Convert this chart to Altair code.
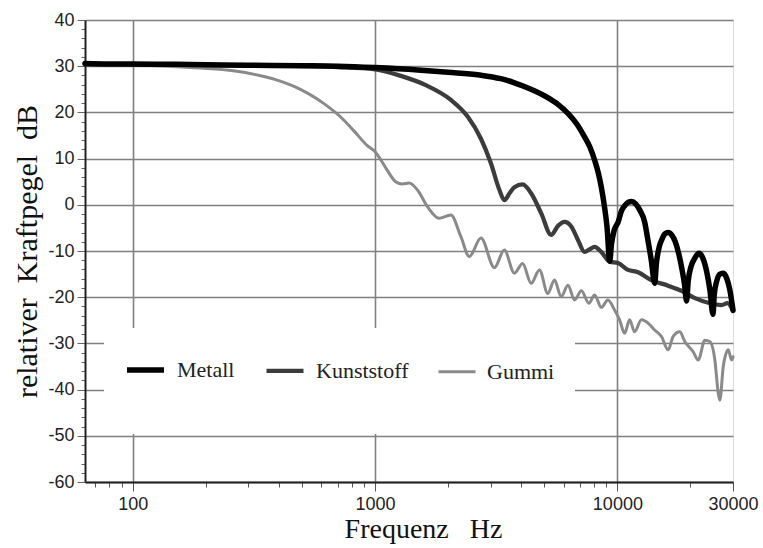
import altair as alt
import pandas as pd

# ---------------- data ----------------
series_names = ["Metall", "Kunststoff", "Gummi"]
series_colors = ["#000000", "#3c3c3c", "#8a8a8a"]
series_widths = [5.5, 3.0, 3.6]

metall_f = [63.5, 80, 100, 150, 200, 300, 500, 700, 1000, 1500, 2000, 2700, 3300, 3760,
            4400, 5160, 5700, 6250, 6800, 7320, 7700, 8050, 8350, 8600, 8850, 9050, 9300,
            9450, 9700, 10060, 10400, 10720, 11100, 11430, 11900, 12360, 12970, 13300,
            13800, 14250, 14500, 14900, 15290, 15700, 16200, 16800, 17270, 17900, 18450,
            18900, 19300, 19600, 20100, 20900, 21700, 22500, 23370, 24100, 24800, 25100,
            25700, 26500, 27400, 28300, 29100, 30000]
metall_db = [30.6, 30.5, 30.5, 30.4, 30.3, 30.2, 30.1, 30.0, 29.7, 29.2, 28.7, 28.1, 27.3, 26.4,
             25.0, 23.2, 21.7, 19.8, 17.5, 14.7, 12.5, 9.7, 6.8, 3.6, -0.5, -4.5, -12.2,
             -8.6, -5.5, -3.8, -1.3, -0.2, 0.6, 0.7, 0.2, -1.1, -3.8, -7.0,
             -12.0, -17.0, -12.5, -9.0, -7.4, -6.3, -6.0, -6.6, -7.8, -10.5, -13.8,
             -17.0, -20.8, -16.5, -13.5, -11.5, -10.5, -11.5, -14.5, -18.5, -23.7, -19.5,
             -16.5, -15.0, -14.8, -16.0, -18.4, -22.8]

kunst_f = [63.5, 100, 200, 400, 700, 1000, 1277, 1618, 2055, 2410, 2735, 3006, 3260, 3415,
           3600, 3757, 4064, 4405, 4845, 5330, 5700, 6055, 6450, 6875, 7320, 7700, 8050,
           8580, 9290, 10050, 11060, 12170, 13800, 16190, 18380, 20900, 23720, 26900,
           28500, 30000]
kunst_db = [30.5, 30.4, 30.3, 30.1, 29.8, 29.3, 27.9, 25.9, 22.7, 19.1, 14.3, 9.0, 3.2, 1.0,
            2.6, 3.8, 4.4, 2.5, -1.8, -6.5, -4.5, -3.7, -4.7, -7.6, -10.2, -9.6, -9.1,
            -10.2, -12.3, -12.6, -14.1, -14.6, -16.3, -17.5, -18.6, -20.2, -21.2, -21.7,
            -21.3, -23.0]

gummi_f = [63.5, 100, 140, 190, 260, 358, 420, 492, 577, 615, 721, 818, 929, 1000, 1060,
           1122, 1216, 1297, 1381, 1496, 1645, 1836, 2055, 2260, 2448, 2735, 3107, 3415,
           3757, 4064, 4405, 4770, 5160, 5500, 5860, 6250, 6660, 7100, 7630, 8050, 8580,
           9140, 9740, 10210, 10710, 11230, 11780, 12560, 13390, 14250, 15200, 16200,
           16990, 18090, 18970, 20550, 21560, 22960, 24070, 25250, 26080, 26480, 27350,
           28680, 29600, 30000]
gummi_db = [30.5, 30.3, 30.0, 29.6, 29.0, 27.6, 26.5, 25.0, 22.9, 21.9, 19.0, 16.0, 12.8, 11.5,
            9.6, 7.5, 5.0, 4.5, 4.7, 3.2, -0.4, -2.9, -2.2, -6.9, -11.2, -7.2, -13.6, -9.8,
            -14.8, -12.7, -17.0, -14.1, -19.2, -16.3, -19.9, -17.4, -20.6, -18.6, -21.3,
            -19.5, -22.2, -20.6, -22.8, -24.9, -27.8, -24.9, -27.5, -24.9, -25.6, -27.1,
            -28.5, -31.4, -28.5, -27.5, -29.6, -31.8, -33.6, -29.3, -29.6, -33.6, -40.8,
            -42.3, -35.0, -31.4, -33.6, -32.9]

x_tick_values = [70, 80, 90, 100, 200, 300, 400, 500, 600, 700, 800, 900,
                 1000, 2000, 3000, 4000, 5000, 6000, 7000, 8000, 9000,
                 10000, 20000, 30000]
x_label_values = [100, 1000, 10000, 30000]
x_grid_values = [100, 1000, 10000]
y_tick_values = list(range(-60, 41, 2))

# ---------------- table ----------------
rows = []
for name, fs, ds in [("Metall", metall_f, metall_db),
                     ("Kunststoff", kunst_f, kunst_db),
                     ("Gummi", gummi_f, gummi_db)]:
    assert len(fs) == len(ds), name
    for f, d in zip(fs, ds):
        rows.append({"Material": name, "Frequenz": f, "Pegel": d})
df = pd.DataFrame(rows)

lbl = ",".join(str(v) for v in x_label_values)
grd = ",".join(str(v) for v in x_grid_values)
NB = "\u00a0"

x_axis = alt.Axis(
    values=x_tick_values,
    title="Frequenz" + NB * 3 + "Hz",
    titleFont="Liberation Serif", titleFontSize=28, titleFontWeight="normal",
    titleColor="#111", titlePadding=2, titleX=338,
    labelExpr=f"indexof([{lbl}], datum.value) >= 0 ? '' + datum.value : ''",
    labelFont="Liberation Sans", labelFontSize=18, labelColor="#222",
    labelPadding=4, labelOverlap=False, labelFlush=False, labelBound=False,
    tickSize={"condition": {"test": f"indexof([{lbl}], datum.value) >= 0", "value": 9}, "value": 5},
    tickColor="#555", tickWidth=1,
    grid=True,
    gridOpacity={"condition": {"test": f"indexof([{grd}], datum.value) >= 0", "value": 1}, "value": 0},
    gridColor="#808080", gridWidth=1.6,
    domainColor="#222", domainWidth=2,
)

y_axis = alt.Axis(
    values=y_tick_values,
    title="relativer" + NB * 2 + "Kraftpegel" + NB * 2 + "dB",
    titleFont="Liberation Serif", titleFontSize=30, titleFontWeight="normal",
    titleColor="#111", titlePadding=5,
    labelExpr="datum.value % 10 === 0 ? '' + datum.value : ''",
    labelFont="Liberation Sans", labelFontSize=18, labelColor="#222",
    labelPadding=3, labelOverlap=False, labelFlush=False, labelBound=False,
    tickSize={"condition": {"test": "datum.value % 10 === 0", "value": 8}, "value": 4},
    tickColor="#666", tickWidth=1,
    grid=True,
    gridOpacity={"condition": {"test": "datum.value % 10 === 0", "value": 1}, "value": 0},
    gridColor="#808080", gridWidth=1.6,
    domainColor="#222", domainWidth=2,
)

legend = alt.Legend(
    orient="none", legendX=19, legendY=308, direction="horizontal", title=None,
    symbolType="M-1,-1.76M-1,0H1M1,1.76", symbolSize=1369, symbolFillColor="transparent",
    labelFont="Liberation Serif", labelFontSize=22, labelColor="#222",
    labelOffset=10, columnPadding=23, padding=20, fillColor="white",
)

xscale = alt.Scale(type="log", domain=[63.5, 30000], nice=False)
yscale = alt.Scale(domain=[-60, 40], nice=False)

base = alt.Chart(df).mark_line(interpolate="monotone", strokeCap="round", strokeJoin="round").encode(
    x=alt.X("Frequenz:Q", scale=xscale, axis=x_axis),
    y=alt.Y("Pegel:Q", scale=yscale, axis=y_axis),
    color=alt.Color("Material:N", scale=alt.Scale(domain=series_names, range=series_colors), legend=legend),
    strokeWidth=alt.StrokeWidth("Material:N", scale=alt.Scale(domain=series_names, range=series_widths), legend=legend),
)

layers = [base.transform_filter(alt.datum.Material == n) for n in ["Gummi", "Kunststoff", "Metall"]]

chart = alt.layer(*layers).properties(
    width=648, height=462,
    autosize=alt.AutoSizeParams(type="none"),
    padding={"left": 85, "top": 20, "right": 30, "bottom": 66},
).configure_view(stroke="#333", strokeWidth=2).configure(background="white")

chart.save("out.html", embed_options={"renderer": "svg", "actions": False})
